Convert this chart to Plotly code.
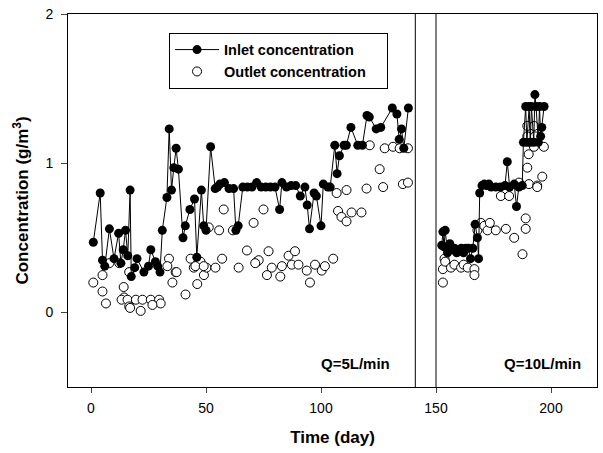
import plotly.graph_objects as go

# Inlet concentration, phase 1 (Q=5 L/min)
inlet1_day = [1, 4, 5, 6, 8, 10, 12, 13, 14, 15, 16, 17, 17.5, 19, 20, 23, 25, 26, 28, 29,
              30, 31, 33, 34, 35, 36, 37, 38, 40, 41, 43, 45, 46, 48, 49, 50, 52, 54, 55, 56,
              58, 60, 62, 63, 64, 66, 68, 70, 72, 74, 76, 78, 80, 82, 83, 85, 87, 89, 91, 93,
              94, 95, 97, 98, 100, 101, 103, 104, 106, 107, 108, 110, 111, 113, 116, 118, 120,
              121, 124, 126, 131, 133, 134, 135, 136, 138]
inlet1_val = [0.47, 0.80, 0.35, 0.31, 0.56, 0.36, 0.53, 0.33, 0.42, 0.55, 0.38, 0.82, 0.24, 0.30,
              0.36, 0.27, 0.31, 0.42, 0.34, 0.31, 0.27, 0.55, 0.77, 1.23, 0.82, 0.97, 1.10, 0.96,
              0.50, 0.58, 0.69, 0.76, 0.37, 0.82, 0.58, 0.55, 1.11, 0.83, 0.84, 0.86, 0.87, 0.83,
              0.83, 0.55, 0.58, 0.84, 0.84, 0.84, 0.87, 0.84, 0.84, 0.84, 0.84, 0.69, 0.87, 0.84,
              0.85, 0.85, 0.78, 0.84, 0.72, 0.56, 0.80, 0.78, 0.58, 0.86, 0.84, 0.84, 1.12, 0.93,
              1.05, 1.12, 1.12, 1.24, 1.12, 1.12, 1.32, 1.31, 1.23, 1.24, 1.37, 1.33, 1.16, 1.23,
              1.10, 1.37]

# Inlet concentration, phase 2 (Q=10 L/min)
inlet2_day = [152.5, 153, 153.5, 154, 155, 156, 157, 158, 159, 160, 161, 162, 163, 164, 165,
              166, 167, 168, 168.5, 169, 170, 171, 172, 173, 174, 176, 178, 180, 181, 182, 184,
              185, 186, 187.5, 188, 189, 189.5, 190.5, 191, 191.5, 192.5, 193, 193.5, 194.5,
              195, 195.5, 196, 197]
inlet2_val = [0.45, 0.54, 0.44, 0.55, 0.40, 0.46, 0.42, 0.43, 0.40, 0.42, 0.43, 0.40, 0.43, 0.43,
              0.36, 0.43, 0.59, 0.50, 0.36, 0.80, 0.85, 0.86, 0.85, 0.86, 0.84, 0.84, 0.84, 0.85,
              1.01, 0.84, 0.86, 0.71, 0.84, 0.85, 1.14, 1.38, 1.14, 1.38, 1.14, 1.38, 1.14, 1.46,
              1.38, 1.14, 1.38, 1.18, 1.24, 1.38]

# Outlet concentration
outlet_day = [1, 5, 5, 6.5, 8, 12.3, 14.2, 14.4, 16.6, 13.3, 15.9, 19.5, 22.4, 26, 29.6, 16.6,
              21.6, 17, 30.3, 26.7, 33.9, 33.2, 35.4, 36.8, 37.2, 41.1, 43.3, 44.7, 46.2, 47.6,
              49.1, 50.2, 54.1, 57, 57.7, 64.2, 67.8, 70.7, 72.2, 51.2, 55.7, 61.7, 75, 72.9,
              77.2, 71.4, 76.5, 78.6, 82.3, 83, 85.9, 88.7, 87.3, 90.2, 45.4, 49, 93.8, 95.2,
              97.4, 100.3, 101.7, 105.3, 107.4, 108.9, 111.1, 113.3, 117.6, 106.8, 111.1, 119.8,
              127, 135.6, 137.8, 121.2, 127.7, 131.3, 134.2, 137.8, 125.5,
              153, 153, 153.7, 154, 156.5, 158, 160.9, 162, 163.8, 166.7, 166.7, 168, 169.5, 171,
              172.4, 173.4, 176, 178.2, 180.4, 181.8, 184, 186.1, 187.6, 189, 189, 190.4, 194,
              189.7, 190.3, 192.6, 196.9, 189.7, 193, 189.7, 192.6, 196.2, 194]
outlet_val = [0.20, 0.25, 0.14, 0.06, 0.33, 0.33, 0.17, 0.10, 0.27, 0.085, 0.085, 0.085, 0.085,
              0.085, 0.085, 0.04, 0.01, 0.03, 0.06, 0.05, 0.36, 0.31, 0.20, 0.27, 0.27, 0.12,
              0.36, 0.30, 0.19, 0.34, 0.25, 0.30, 0.30, 0.36, 0.69, 0.30, 0.415, 0.60, 0.34,
              0.57, 0.55, 0.55, 0.69, 0.35, 0.41, 0.33, 0.25, 0.30, 0.24, 0.31, 0.38, 0.41, 0.32,
              0.32, 0.31, 0.31, 0.28, 0.20, 0.32, 0.28, 0.31, 0.36, 0.68, 0.64, 0.61, 0.67, 0.67,
              0.80, 0.82, 0.83, 0.84, 0.86, 0.87, 1.12, 1.10, 1.11, 1.10, 1.10, 0.96,
              0.29, 0.20, 0.36, 0.34, 0.30, 0.32, 0.30, 0.32, 0.30, 0.29, 0.25, 0.55, 0.60, 0.58,
              0.55, 0.60, 0.55, 0.78, 0.56, 0.78, 0.50, 0.87, 0.39, 0.63, 0.56, 0.86, 0.85,
              0.97, 1.06, 1.11, 1.11, 1.18, 1.18, 1.25, 1.25, 0.91, 0.84]

divider_days = [141, 150]
x_ticks = [0, 50, 100, 150, 200]
y_ticks = [0, 1, 2]
phase_labels = ["Q=5L/min", "Q=10L/min"]
phase_label_x = [115, 196.5]

FONT = "Liberation Sans, Arial, sans-serif"
PAD = "&nbsp;" * 4

fig = go.Figure()
fig.add_trace(go.Scatter(
    x=outlet_day, y=outlet_val, mode="markers", name="<b>Outlet concentration</b>" + PAD,
    marker=dict(symbol="circle", size=9, color="white", line=dict(color="black", width=1)),
))
fig.add_trace(go.Scatter(
    x=inlet1_day, y=inlet1_val, mode="lines+markers", name="<b>Inlet concentration</b>" + PAD,
    line=dict(color="black", width=1),
    marker=dict(symbol="circle", size=9, color="black"),
))
fig.add_trace(go.Scatter(
    x=inlet2_day, y=inlet2_val, mode="lines+markers", showlegend=False,
    line=dict(color="black", width=1),
    marker=dict(symbol="circle", size=9, color="black"),
))

for d in divider_days:
    fig.add_shape(type="line", x0=d, x1=d, y0=-0.5, y1=2, xref="x", yref="y",
                  line=dict(color="black", width=1))

for lbl, lx in zip(phase_labels, phase_label_x):
    fig.add_annotation(x=lx, y=-0.34, xref="x", yref="y", text="<b>%s</b>" % lbl,
                       showarrow=False, font=dict(size=15, color="black", family=FONT))

fig.update_layout(
    width=603, height=453,
    margin=dict(l=68, r=6, t=14, b=66),
    paper_bgcolor="white", plot_bgcolor="white",
    font=dict(family=FONT, color="black", size=14),
    legend=dict(x=0.191, y=0.95, xanchor="left", yanchor="top",
                bordercolor="black", borderwidth=1, bgcolor="white",
                font=dict(size=14.5, family=FONT), traceorder="reversed",
                tracegroupgap=0, itemwidth=44),
    xaxis=dict(range=[-10, 220], tickvals=x_ticks, ticks="outside", ticklen=5,
               showline=True, mirror=True, linecolor="black", linewidth=1,
               showgrid=False, zeroline=False, ticklabelstandoff=3,
               title=dict(text="<b>Time (day)</b>", font=dict(size=17), standoff=16)),
    yaxis=dict(range=[-0.5, 2], tickvals=y_ticks, ticks="outside", ticklen=6,
               showline=True, mirror=True, linecolor="black", linewidth=1,
               showgrid=False, zeroline=False, ticklabelstandoff=5,
               title=dict(text="<b>Concentration (g/m<sup>3</sup>)</b>", font=dict(size=17),
                          standoff=12)),
)

fig.write_html("out.html")
